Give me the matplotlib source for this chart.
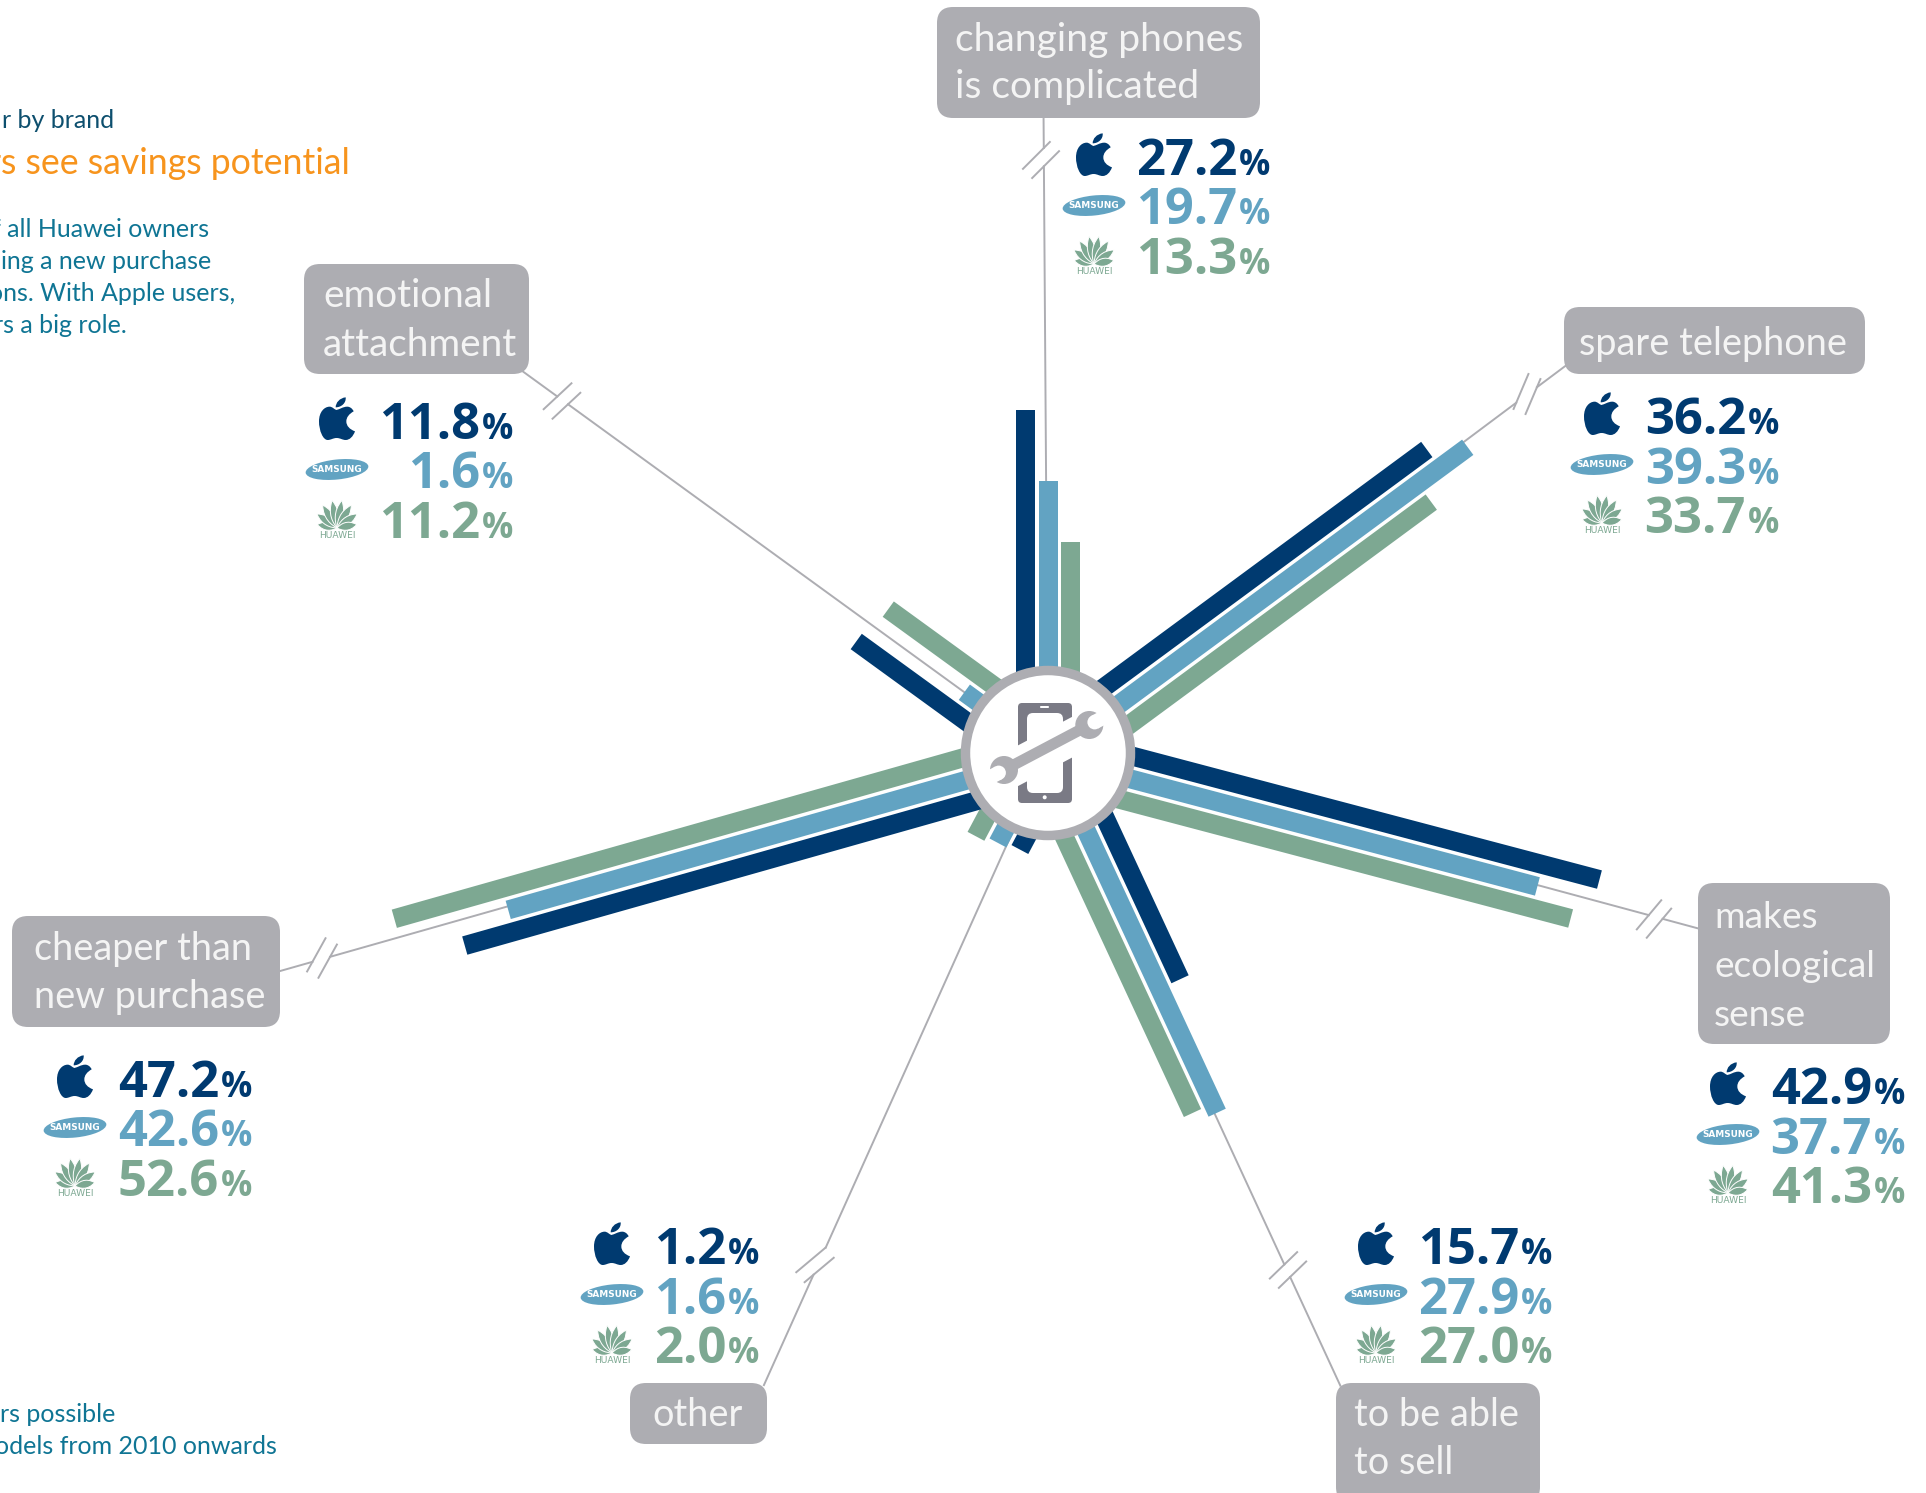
import numpy as np
import matplotlib
matplotlib.use("Agg")
import matplotlib.pyplot as plt
from matplotlib.path import Path
from matplotlib.patches import PathPatch, Polygon, Circle, Ellipse, FancyBboxPatch
from matplotlib.transforms import Affine2D

plt.rcParams['font.family'] = ['Lato', 'DejaVu Sans']

# -----------------------------
# Data (share of owners in %, by brand)
# -----------------------------
labels = [
    ["changing phones", "is complicated"],
    ["spare telephone"],
    ["makes", "ecological", "sense"],
    ["to be able", "to sell"],
    ["other"],
    ["cheaper than", "new purchase"],
    ["emotional", "attachment"],
]
apple = [27.2, 36.2, 42.9, 15.7, 1.2, 47.2, 11.8]
samsung = [19.7, 39.3, 37.7, 27.9, 1.6, 42.6, 1.6]
huawei = [13.3, 33.7, 41.3, 27.0, 2.0, 52.6, 11.2]

title_lines = ["r by brand"]
headline = "rs see savings potential"
body_lines = ["f all Huawei owners", "ing a new purchase", "ons. With Apple users,", "rs a big role."]
note_lines = ["rs possible", "odels from 2010 onwards"]

# -----------------------------
# Layout, all in image pixels
# -----------------------------
W, H = 1926, 1493
CX, CY = 1048, 753
spoke_angle = [90, 36.4, -14.8, -65.1, -118, 195.8, 144]
spoke_shift = [0, -3, -4, 2, -2, 4, 0]
leader_angle = [90.4, 36.8, -15.1, -65.2, -114.2, 195.85, 144]
leader_end = [634, 647, 673, 697, 693, 798, 650]
bar_base = 85
px_per_pct = [9.5, 11.05, 11.2, 11.2, 11.2, 11.2, 11.5]
bar_offset = 22.5
bar_width = 19
break_mid = [(1041, 160), (1527, 394), (1654, 919), (1288, 1270), (815, 1265), (322, 958), (562, 401)]
break_angle = [45, 67, 50, 44, 40, 61, 43]
boxes = [(937, 7, 323, 111), (1564, 307, 301, 67), (1698, 883, 192, 161), (1336, 1383, 204, 120),
         (630, 1383, 137, 61), (12, 916, 268, 111), (304, 264, 225, 110)]
text_left = [955, 1579, 1714, 1354, 652, 34, 323]
text_base = [51, 355, 928, 1426, 1426, 960, 307]
line_step = [47, 0, 49, 48, 0, 48, 49]
label_size = [28.1, 27.3, 26.7, 27.3, 27.3, 27.3, 27.8]
pct_right = [1270, 1779, 1905, 1552, 759, 252, 513]
first_base = [175, 434, 1104, 1264, 1264, 1097, 439]
logo_x = [1094, 1602, 1728, 1376, 612, 75, 337]

APPLE = "#003a70"
SAMSUNG = "#62a3c2"
HUAWEI = "#7da892"
GREY = "#adadb2"
PHONE = "#7a7a85"
ROW_STEP = 49.5


def apple_logo(ax, x, y, color):
    # traced by eye, local units are 3x image pixels
    verts = [(52, 38), (62, 36), (72, 28), (85, 28), (92, 28), (100, 33), (104, 42),
             (90, 50), (82, 60), (82, 72), (82, 86), (92, 96), (108, 102),
             (102, 118), (92, 128), (80, 128), (70, 128), (64, 122), (53, 122),
             (42, 122), (36, 128), (26, 128), (12, 128), (0, 100), (0, 72),
             (0, 44), (16, 28), (32, 28), (40, 28), (46, 36), (52, 38), (52, 38)]
    codes = [Path.MOVETO] + [Path.CURVE4] * 30 + [Path.CLOSEPOLY]
    leaf = [(50, 30), (50, 16), (62, 2), (80, 0), (82, 16), (68, 30), (50, 30), (50, 30)]
    codes2 = [Path.MOVETO] + [Path.CURVE4] * 6 + [Path.CLOSEPOLY]
    path = Path(verts + leaf, codes + codes2)
    tr = Affine2D().translate(-54, -128).scale(1 / 3).translate(x, y + 1) + ax.transData
    ax.add_patch(PathPatch(path, fc=color, ec="none", transform=tr, zorder=6))


def samsung_logo(ax, x, y, color):
    ax.add_patch(Ellipse((x, y - 19), 63, 20, angle=-6, fc=color, ec="none", zorder=6))
    ax.text(x, y - 19, "SAMSUNG", color="white", fontsize=6.4, fontweight="bold", family="DejaVu Sans",
            ha="center", va="center", zorder=7)


def huawei_logo(ax, x, y, color):
    # petals fan out from one point above the word, longest at the top
    verts = [(0, 0), (-3, -5), (-7, -14), (0, -25), (7, -14), (3, -5), (0, 0), (0, 0)]
    codes = [Path.MOVETO] + [Path.CURVE4] * 6 + [Path.CLOSEPOLY]
    petal = Path(verts, codes)
    for a, k in [(-80, 0.8), (-55, 0.98), (-32, 1.08), (-10, 1.12), (10, 1.12), (32, 1.08), (55, 0.98), (80, 0.8)]:
        tr = Affine2D().scale(1, k).rotate_deg(a).translate(x, y - 10) + ax.transData
        ax.add_patch(PathPatch(petal, fc=color, ec="white", lw=0.7, transform=tr, zorder=6))
    ax.text(x, y, "HUAWEI", color=color, fontsize=6.6, family="DejaVu Sans",
            ha="center", va="baseline", zorder=6)


def draw_icon(ax):
    ax.add_patch(FancyBboxPatch((1022, 707), 46, 92, boxstyle="round,pad=4,rounding_size=4",
                                fc=PHONE, ec="none", zorder=8))
    ax.add_patch(FancyBboxPatch((1033, 719), 24, 68, boxstyle="round,pad=6,rounding_size=6",
                                fc="white", ec="none", zorder=8))
    ax.add_patch(FancyBboxPatch((1040, 706), 9, 2, boxstyle="round,pad=0,rounding_size=1",
                                fc="white", ec="none", zorder=8))
    ax.add_patch(Circle((1044.7, 797.3), 2, fc="white", ec="none", zorder=8))

    head = np.array([1089.3, 725.0])
    tail = np.array([1004.0, 770.0])
    axis = (head - tail) / np.linalg.norm(head - tail)
    normal = np.array([-axis[1], axis[0]])
    # white gap cut out of the phone round the wrench
    mid = np.array([1045.0, 751.5])
    a, b = mid - axis * 42, mid + axis * 42
    ax.add_patch(Polygon([a + normal * 18, b + normal * 18, b - normal * 18, a - normal * 18],
                         fc="white", ec="none", zorder=9))
    # handle
    ax.add_patch(Polygon([tail + normal * 5.5, head + normal * 5.5, head - normal * 5.5, tail - normal * 5.5],
                         fc=GREY, ec="none", zorder=10))
    for c, d in [(head, axis), (tail, -axis)]:
        ax.add_patch(Circle(c, 14, fc=GREY, ec="none", zorder=10))
        notch = c + d * 6
        ax.add_patch(Circle(notch, 7.2, fc="white", ec="none", zorder=11))
        far = notch + d * 14
        ax.add_patch(Polygon([notch + normal * 7.2, far + normal * 7.2, far - normal * 7.2, notch - normal * 7.2],
                             fc="white", ec="none", zorder=11))


def draw_leader(ax, angle, end, mid, slash_deg):
    d = np.array([np.cos(np.radians(angle)), -np.sin(np.radians(angle))])
    s = np.array([np.cos(np.radians(slash_deg)), -np.sin(np.radians(slash_deg))])
    n = np.array([-s[1], s[0]])
    start = np.array([CX, CY], dtype=float)
    hits = []
    for sign in (-1, 1):
        centre = np.array(mid) + n * sign * 6.5
        t = np.linalg.solve(np.column_stack([d, -s]), centre - start)[0]
        hits.append(t)
        p1, p2 = centre - s * 19, centre + s * 19
        ax.plot([p1[0], p2[0]], [p1[1], p2[1]], color=GREY, lw=1.4, zorder=1)
    near, far = min(hits), max(hits)
    for r0, r1 in [(0, near), (far, end)]:
        p1, p2 = start + d * r0, start + d * r1
        ax.plot([p1[0], p2[0]], [p1[1], p2[1]], color=GREY, lw=1.4, zorder=1)


fig = plt.figure(figsize=(W / 100, H / 100), dpi=100)
ax = fig.add_axes([0, 0, 1, 1])
ax.set_xlim(0, W)
ax.set_ylim(H, 0)
ax.axis("off")

brands = [(apple, APPLE, 1), (samsung, SAMSUNG, 0), (huawei, HUAWEI, -1)]

for i, box in enumerate(boxes):
    # leader line with its break mark
    draw_leader(ax, leader_angle[i], leader_end[i], break_mid[i], break_angle[i])

    # three parallel bars
    a = np.radians(spoke_angle[i])
    d = np.array([np.cos(a), -np.sin(a)])
    n = np.array([-np.sin(a), -np.cos(a)])
    for values, color, side in brands:
        base = np.array([CX, CY]) + n * (side * bar_offset + spoke_shift[i])
        tip = base + d * (bar_base + px_per_pct[i] * values[i])
        w = n * bar_width / 2
        ax.add_patch(Polygon([base + w, tip + w, tip - w, base - w], fc=color, ec="none", zorder=2))

    # label box
    x, y, bw, bh = box
    r = 16
    ax.add_patch(FancyBboxPatch((x + r, y + r), bw - 2 * r, bh - 2 * r,
                                boxstyle=f"round,pad={r},rounding_size={r}", fc=GREY, ec="none", zorder=3))
    for k, line in enumerate(labels[i]):
        ax.text(text_left[i], text_base[i] + k * line_step[i], line, color="#f4f4f4", fontsize=label_size[i],
                va="baseline", ha="left", zorder=4)

    # percentages with brand logos
    for row, (values, color, side) in enumerate(brands):
        yb = first_base[i] + row * ROW_STEP
        ax.text(pct_right[i], yb, "%", color=color, fontsize=25, fontweight="bold", family="Open Sans",
                ha="right", va="baseline", zorder=6)
        ax.text(pct_right[i] - 33, yb, f"{values[i]:.1f}", color=color, fontsize=36.5, fontweight="bold",
                family="Open Sans", ha="right", va="baseline", zorder=6)
    apple_logo(ax, logo_x[i], first_base[i], APPLE)
    samsung_logo(ax, logo_x[i], first_base[i] + ROW_STEP, SAMSUNG)
    huawei_logo(ax, logo_x[i], first_base[i] + 2 * ROW_STEP, HUAWEI)

# hub
ax.add_patch(Circle((CX, CY), 82.5, fc="white", ec=GREY, lw=6.8, zorder=7))
draw_icon(ax)

# cropped intro and footnote text at the left edge
ax.text(114, 128, title_lines[0], color="#0d4f6e", fontsize=18, ha="right", va="baseline")
ax.text(350, 174, headline, color="#f7941d", fontsize=25.7, ha="right", va="baseline")
for line, yb, xr in zip(body_lines, [237, 269, 301, 333], [209, 211, 235, 127]):
    ax.text(xr, yb, line, color="#0f7594", fontsize=18, ha="right", va="baseline")
for line, yb, xr in zip(note_lines, [1422, 1454], [115, 277]):
    ax.text(xr, yb, line, color="#0f7594", fontsize=18, ha="right", va="baseline")

fig.savefig("out.png", dpi=100)
